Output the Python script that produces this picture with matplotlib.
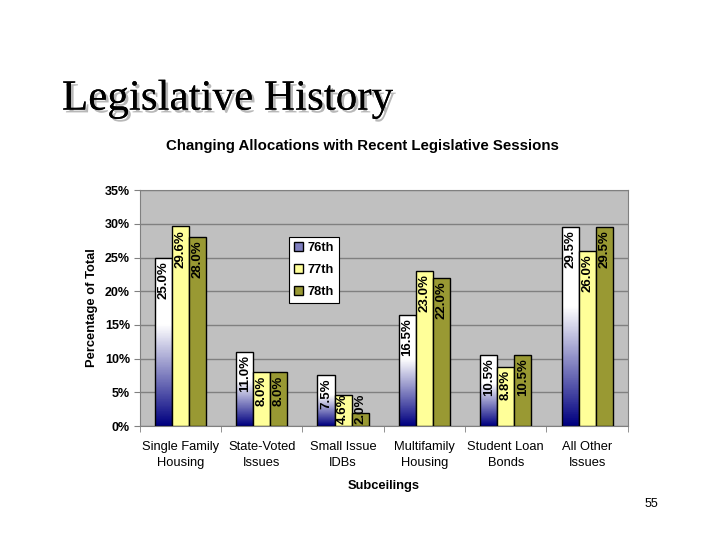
import numpy as np
import matplotlib
matplotlib.use("Agg")
import matplotlib.pyplot as plt
from matplotlib.patches import Patch
import matplotlib.patheffects as pe
from matplotlib.colors import LinearSegmentedColormap

categories = ["Single Family\nHousing", "State-Voted\nIssues", "Small Issue\nIDBs",
              "Multifamily\nHousing", "Student Loan\nBonds", "All Other\nIssues"]
sessions = ["76th", "77th", "78th"]
s76 = [25.0, 11.0, 7.5, 16.5, 10.5, 29.5]
s77 = [29.6, 8.0, 4.6, 23.0, 8.8, 26.0]
s78 = [28.0, 8.0, 2.0, 22.0, 10.5, 29.5]

plt.rcParams["font.family"] = ["Liberation Sans", "DejaVu Sans"]

fig = plt.figure(figsize=(7.2, 5.4), dpi=100)
fig.patch.set_facecolor("white")

# slide title with shadow
fig.text(0.086, 0.797, "Legislative History", family="Liberation Serif", fontsize=31,
         color="black",
         path_effects=[pe.withSimplePatchShadow(offset=(2, -2), shadow_rgbFace="#b8b8b8", alpha=1),
                       pe.Normal()])
fig.text(0.503, 0.729, "Changing Allocations with Recent Legislative Sessions",
         ha="center", va="center", fontsize=10.8, fontweight="bold")
fig.text(0.905, 0.066, "55", ha="center", va="center", fontsize=9)

ax = fig.add_axes([0.194, 0.211, 0.678, 0.437])
ax.set_facecolor("#c0c0c0")
ax.set_xlim(-0.5, len(categories) - 0.5)
ax.set_ylim(0, 35)

x = np.arange(len(categories))
w = 0.21
grad = LinearSegmentedColormap.from_list("g76", [(0, "#000080"), (0.6, "#ffffff"), (1, "#ffffff")])

bars76 = ax.bar(x - w, s76, w, color="none", edgecolor="black", linewidth=1, zorder=3)
for b in bars76:
    x0, y0 = b.get_x(), b.get_y()
    x1, y1 = x0 + b.get_width(), y0 + b.get_height()
    img = ax.imshow(np.linspace(0, 1, 100).reshape(-1, 1), cmap=grad, origin="lower",
                    extent=[x0, x1, y0, y1], aspect="auto", zorder=2)
    img.set_clip_path(b)
ax.set_aspect("auto")
bars77 = ax.bar(x, s77, w, color="#ffff99", edgecolor="black", linewidth=1, zorder=3)
bars78 = ax.bar(x + w, s78, w, color="#999933", edgecolor="black", linewidth=1, zorder=3)

for bars in (bars76, bars77, bars78):
    for b in bars:
        h = b.get_height()
        xc = b.get_x() + b.get_width() / 2
        if h > 6:
            ax.text(xc, h - 0.5, "%.1f%%" % h, rotation=90,
                    ha="center", va="top", fontsize=9.5, fontweight="bold", zorder=4)
        else:
            # label too long for the bar: sit it on the baseline like Excel does
            ax.text(xc, 0.3, "%.1f%%" % h, rotation=90,
                    ha="center", va="bottom", fontsize=9.5, fontweight="bold", zorder=4)

ax.set_yticks(range(0, 36, 5))
ax.set_yticklabels(["%d%%" % v for v in range(0, 36, 5)], fontsize=9, fontweight="bold")
ax.yaxis.grid(True, color="#808080", linewidth=1, zorder=1)
ax.set_axisbelow(True)
ax.set_xticks(x)
ax.set_xticklabels(categories, fontsize=9.3, linespacing=1.45)
ax.set_xticks(np.arange(-0.5, len(categories), 1), minor=True)
ax.tick_params(axis="x", which="major", length=0, pad=11)
ax.tick_params(axis="x", which="minor", length=4, color="#808080")
ax.tick_params(axis="y", length=4, color="#808080", pad=3)
for s in ax.spines.values():
    s.set_color("#808080")
ax.set_ylabel("Percentage of Total", fontsize=9.3, fontweight="bold", labelpad=5)
ax.set_xlabel("Subceilings", fontsize=9.3, fontweight="bold", labelpad=8)

handles = [Patch(facecolor="#8080c0", edgecolor="black"),
           Patch(facecolor="#ffff99", edgecolor="black"),
           Patch(facecolor="#999933", edgecolor="black")]
leg = ax.legend(handles, sessions, loc="upper left", bbox_to_anchor=(0.305, 0.80),
                prop={"size": 9.3, "weight": "bold"}, fancybox=False, framealpha=1,
                edgecolor="black", handlelength=0.7, handleheight=0.7, handletextpad=0.4,
                borderpad=0.4, labelspacing=0.75, borderaxespad=0)
leg.get_frame().set_linewidth(0.8)

fig.savefig("out.png", dpi=100)
